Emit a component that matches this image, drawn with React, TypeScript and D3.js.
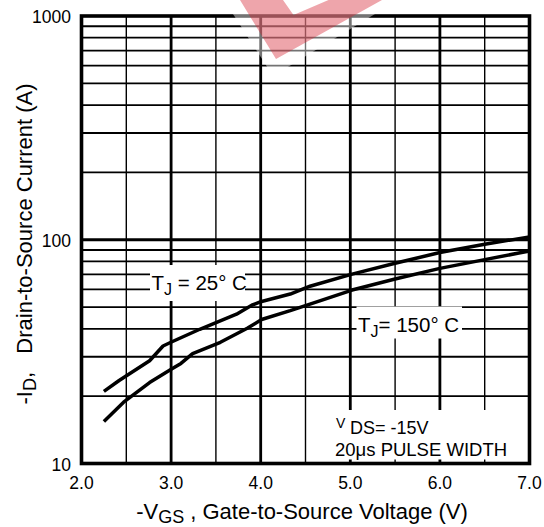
import React from "react";
import * as d3 from "d3";

const xTicks = [2, 3, 4, 5, 6, 7];
const xTickLabels = ["2.0", "3.0", "4.0", "5.0", "6.0", "7.0"];
const yTicks = [10, 100, 1000];
const yTickLabels = ["10", "100", "1000"];

const vgs25 = [2.25, 2.42, 2.76, 2.91, 3.01, 3.32, 3.73, 3.9, 4.01, 4.33, 4.55, 5.02, 5.5, 6.0, 6.5, 7.0];
const id25 = [21, 23.5, 28.8, 33.5, 35, 39.8, 46.5, 51, 53, 57.2, 62, 70.2, 78.5, 87.7, 95.5, 103];
const vgs150 = [2.25, 2.47, 2.76, 3.01, 3.11, 3.24, 3.55, 3.85, 4.01, 4.33, 4.55, 5.02, 5.5, 6.0, 6.5, 7.0];
const id150 = [15.4, 18.8, 23, 26.5, 28, 31, 34.8, 40.2, 44, 48.2, 51.6, 59.6, 66.8, 74.5, 81.5, 89.1];

const W = 544;
const H = 527;
const L = 81.5, R = 529.5, T = 16, B = 463.5;
const FONT = "'Liberation Sans', Arial, sans-serif";

export default function App() {
  const x = d3.scaleLinear().domain([2, 7]).range([L, R]);
  const y = d3.scaleLog().domain([10, 1000]).range([B, T]);

  const halfV: number[] = d3.range(2.5, 7, 1);
  const intV: number[] = [3, 4, 5, 6];
  const minorH: number[] = [];
  [10, 100].forEach((d) => {
    for (let k = 2; k <= 9; k++) minorH.push(d * k);
  });

  const line = d3
    .line<[number, number]>()
    .x((d) => x(d[0]))
    .y((d) => y(d[1]));
  const p25 = line(vgs25.map((v, i) => [v, id25[i]] as [number, number])) || "";
  const p150 = line(vgs150.map((v, i) => [v, id150[i]] as [number, number])) || "";

  return (
    <svg width={W} height={H} style={{ position: "absolute", left: 0, top: 0 }} fontFamily={FONT}>
      <rect x={0} y={0} width={W} height={H} fill="#fff" />
      {/* grid */}
      {halfV.map((v) => (
        <line key={"hv" + v} x1={x(v)} x2={x(v)} y1={T} y2={B} stroke="#000" strokeWidth={1.4} />
      ))}
      {intV.map((v) => (
        <line key={"iv" + v} x1={x(v)} x2={x(v)} y1={T} y2={B} stroke="#000" strokeWidth={2.8} />
      ))}
      {minorH.map((v) => (
        <line key={"mh" + v} x1={L} x2={R} y1={y(v)} y2={y(v)} stroke="#000" strokeWidth={1.8} />
      ))}
      <line x1={L} x2={R} y1={y(100)} y2={y(100)} stroke="#000" strokeWidth={2.8} />
      {/* curves */}
      <path d={p25} fill="none" stroke="#000" strokeWidth={3.5} strokeLinejoin="round" />
      <path d={p150} fill="none" stroke="#000" strokeWidth={3.5} strokeLinejoin="round" />
      {/* label boxes */}
      <rect x={150} y={265} width={95} height={36} fill="#fff" />
      <rect x={356.5} y={306.5} width={105.5} height={32} fill="#fff" />
      <rect x={330} y={410} width={R - 330} height={B - 410} fill="#fff" />
      {[5, 5.5, 6, 6.5].map((v) => (
        <line key={"bt" + v} x1={x(v)} x2={x(v)} y1={B - 4} y2={B} stroke="#000" strokeWidth={v % 1 === 0 ? 2.8 : 1.4} />
      ))}
      {/* border */}
      <rect x={L} y={T} width={R - L} height={B - T} fill="none" stroke="#000" strokeWidth={3.6} />
      {/* annotations */}
      <text x={151.5} y={290} fontSize={20.5}>
        T<tspan fontSize={16} dy={5}>J</tspan>
        <tspan dy={-5}> = 25</tspan>
        <tspan>°</tspan>
        <tspan> C</tspan>
      </text>
      <text x={358} y={331.5} fontSize={20.5}>
        T<tspan fontSize={16} dy={5}>J</tspan>
        <tspan dy={-5}>= 150</tspan>
        <tspan>°</tspan>
        <tspan> C</tspan>
      </text>
      <text x={336} y={428} fontSize={14}>V</text>
      <text x={350} y={434} fontSize={18}>DS= -15V</text>
      <text x={335} y={456} fontSize={18.5}>20μs PULSE WIDTH</text>
      {/* tick labels */}
      {yTicks.map((v, i) => (
        <text key={"yt" + v} x={71} y={y(v) + 7} textAnchor="end" fontSize={17.5}>
          {yTickLabels[i]}
        </text>
      ))}
      {xTicks.map((v, i) => (
        <text key={"xt" + v} x={x(v)} y={489} textAnchor="middle" fontSize={17.5}>
          {xTickLabels[i]}
        </text>
      ))}
      {/* axis titles */}
      <text x={302} y={519} textAnchor="middle" fontSize={22}>
        -V<tspan fontSize={18} dy={4}>GS</tspan>
        <tspan dy={-4}> , Gate-to-Source Voltage (V)</tspan>
      </text>
      <text transform="translate(32,244) rotate(-90)" textAnchor="middle" fontSize={22}>
        -I<tspan fontSize={18} dy={4}>D</tspan>
        <tspan dy={-4}>{",\u00a0\u00a0 Drain-to-Source Current (A)"}</tspan>
      </text>
      {/* watermark */}
      <path d="M224,0 L273,76 L398,0 Z" fill="#fff" opacity={0.45} />
      <path
        d="M240,0 L276,59 L382,0 Z M283,0 L293.5,15 L328.5,0 Z"
        fill="rgb(212,30,45)"
        fillRule="evenodd"
        opacity={0.4}
      />
    </svg>
  );
}
